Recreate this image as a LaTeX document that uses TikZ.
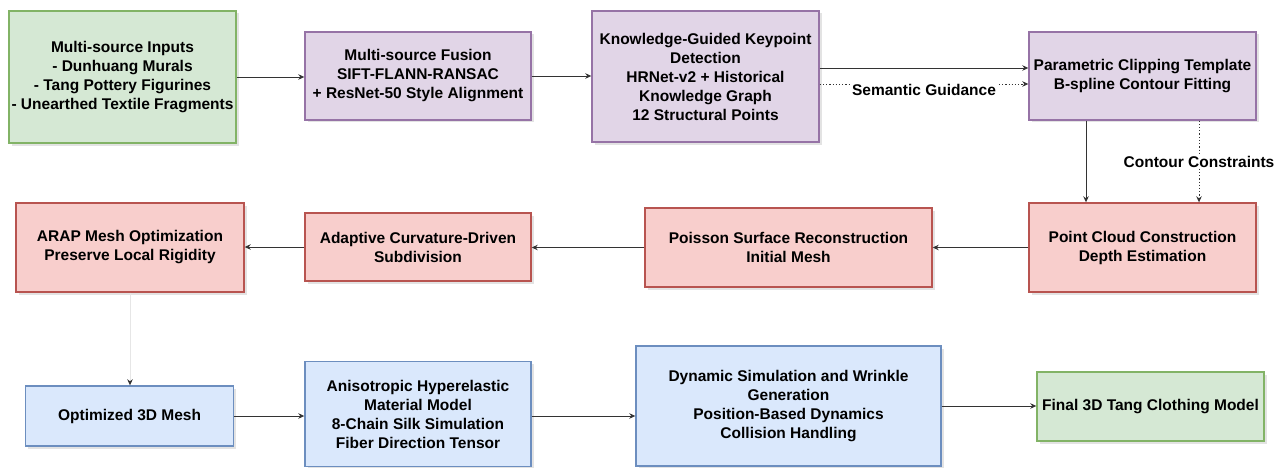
\documentclass[tikz,border=0pt]{standalone}
\usepackage{fontspec}
\setmainfont{Liberation Sans}
\usetikzlibrary{arrows.meta,shadows}
\definecolor{gfill}{HTML}{D5E8D4}\definecolor{gline}{HTML}{82B366}
\definecolor{pfill}{HTML}{E1D5E7}\definecolor{pline}{HTML}{9673A6}
\definecolor{rfill}{HTML}{F8CECC}\definecolor{rline}{HTML}{B85450}
\definecolor{bfill}{HTML}{DAE8FC}\definecolor{bline}{HTML}{6C8EBF}
\definecolor{edgec}{HTML}{333333}
\definecolor{lightedge}{HTML}{E6E6E6}
\begin{document}
\begin{tikzpicture}[x=1pt,y=-1pt,
  lbl/.style={font=\fontsize{15.5}{19}\selectfont\bfseries, text=black},
  box/.style={lbl, rectangle, line width=1.4pt, align=center, inner sep=0pt,
    drop shadow={shadow xshift=2.5pt, shadow yshift=-2.5pt, opacity=0.22}},
  gbox/.style={box, draw=gline, fill=gfill},
  pbox/.style={box, draw=pline, fill=pfill},
  rbox/.style={box, draw=rline, fill=rfill},
  bbox/.style={box, draw=bline, fill=bfill},
  arr/.style={draw=edgec, line width=0.9pt, -{Stealth[length=6pt,width=5.5pt,color=edgec]}},
  darr/.style={arr, dash pattern=on 1.2pt off 2pt},
  elbl/.style={lbl, fill=white, inner sep=1pt}
]
\useasboundingbox (0,0) rectangle (1276,468);

% row 1
\node[gbox, minimum width=227pt, minimum height=132pt] (n1) at (122.5,77)
  {Multi-source Inputs\\- Dunhuang Murals\\- Tang Pottery Figurines\\- Unearthed Textile Fragments};
\node[pbox, minimum width=226pt, minimum height=88pt] (n2) at (418,76)
  {Multi-source Fusion\\SIFT-FLANN-RANSAC\\+ ResNet-50 Style Alignment};
\node[pbox, minimum width=227pt, minimum height=131pt] (n3) at (705.5,76.5)
  {Knowledge-Guided Keypoint\\Detection\\HRNet-v2 + Historical\\Knowledge Graph\\12 Structural Points};
\node[pbox, minimum width=227pt, minimum height=88pt] (n4) at (1142.5,76)
  {Parametric Clipping Template\\B-spline Contour Fitting};

% row 2
\node[rbox, minimum width=227pt, minimum height=89pt] (n5) at (1142.5,247.5)
  {Point Cloud Construction\\Depth Estimation};
\node[rbox, minimum width=287pt, minimum height=79pt] (n6) at (788.5,247.5)
  {Poisson Surface Reconstruction\\Initial Mesh};
\node[rbox, minimum width=226pt, minimum height=68pt] (n7) at (418,247)
  {Adaptive Curvature-Driven\\Subdivision};
\node[rbox, minimum width=228pt, minimum height=89pt] (n8) at (130,247.5)
  {ARAP Mesh Optimization\\Preserve Local Rigidity};

% row 3
\node[bbox, minimum width=208pt, minimum height=60pt] (n9) at (129.6,416)
  {Optimized 3D Mesh};
\node[bbox, minimum width=226pt, minimum height=104.5pt] (n10) at (418,414)
  {Anisotropic Hyperelastic\\Material Model\\8-Chain Silk Simulation\\Fiber Direction Tensor};
\node[bbox, minimum width=305pt, minimum height=120pt] (n11) at (788.5,406)
  {Dynamic Simulation and Wrinkle\\Generation\\Position-Based Dynamics\\Collision Handling};
\node[gbox, minimum width=227pt, minimum height=69pt] (n12) at (1150.5,406.5)
  {Final 3D Tang Clothing Model};

% connectors
\draw[arr] (n1.east) -- (n1.east -| n2.west);
\draw[arr] (n2.east) -- (n2.east -| n3.west);
\draw[arr] ([yshift=8.5pt]n3.east) -- ([yshift=8.5pt]n3.east -| n4.west);
\draw[darr] ([yshift=-7.5pt]n3.east) -- ([yshift=-7.5pt]n3.east -| n4.west)
  node[elbl, midway, yshift=-6pt] {Semantic Guidance};
\draw[arr] ([xshift=-56.5pt]n4.south) -- ([xshift=-56.5pt]n4.south |- n5.north);
\draw[darr] ([xshift=56.5pt]n4.south) -- ([xshift=56.5pt]n4.south |- n5.north)
  node[elbl, midway] {Contour Constraints};
\draw[arr] (n5.west) -- (n5.west -| n6.east);
\draw[arr] (n6.west) -- (n6.west -| n7.east);
\draw[arr] (n7.west) -- (n7.west -| n8.east);
\draw[arr, draw=lightedge] (n8.south) -- (n8.south |- n9.north);
\draw[arr] (n9.east) -- (n9.east -| n10.west);
\draw[arr] (n9.east -| n10.east) -- (n9.east -| n11.west);
\draw[arr] (n11.east) -- (n11.east -| n12.west);
\end{tikzpicture}
\end{document}
